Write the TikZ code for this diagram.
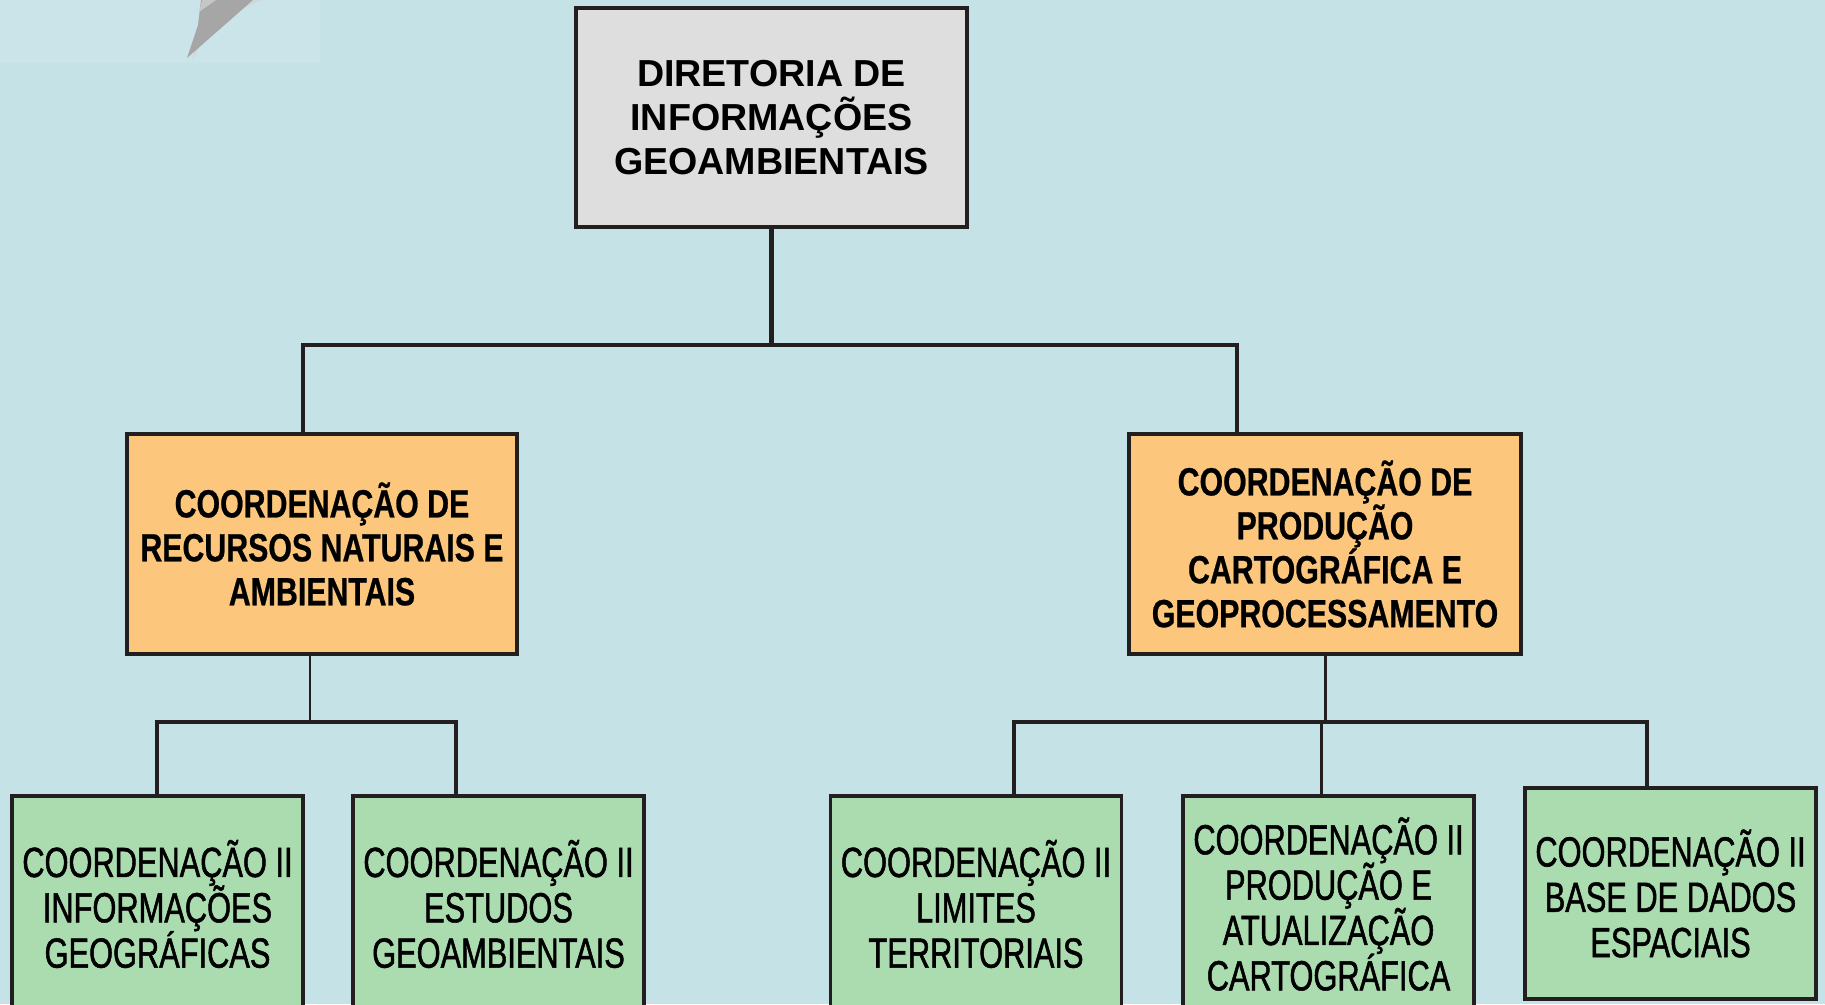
\documentclass[tikz,border=0pt]{standalone}
\usepackage{fontspec}
\usepackage{xcolor}
\usepackage{tikz}
\setmainfont{Liberation Sans}
\newfontfamily\greenfont[FakeStretch=0.73,FakeBold=1.2]{Liberation Sans}
\newfontfamily\orangefont[FakeStretch=0.77,FakeBold=0.6]{Liberation Sans}
\newcommand\tightlines{\setlength{\lineskiplimit}{-20pt}}
\definecolor{bgblue}{RGB}{197,226,231}
\definecolor{bglight}{RGB}{203,228,234}
\definecolor{boxgray}{RGB}{222,222,222}
\definecolor{boxorange}{RGB}{252,199,124}
\definecolor{boxgreen}{RGB}{171,220,176}
\definecolor{linedark}{RGB}{35,31,32}

\begin{document}
\begin{tikzpicture}[
    dirbox/.style = {draw = linedark, line width = 1pt, fill = boxgray, inner sep = 0pt,
      minimum width = 3.91cm, minimum height = 2.19cm, align = center,
      font = {\fontsize{10.7}{12.5}\selectfont\bfseries\tightlines}},
    coordbox/.style = {draw = linedark, line width = 1pt, fill = boxorange, inner sep = 0pt,
      minimum width = 3.9cm, minimum height = 2.2cm, align = center,
      font = {\orangefont\fontsize{11.2}{12.5}\selectfont\bfseries\tightlines}},
    subbox/.style = {draw = linedark, line width = 1pt, fill = boxgreen, inner sep = 0pt,
      minimum width = 2.91cm, minimum height = 2.16cm, align = center,
      font = {\greenfont\fontsize{12}{12.9}\selectfont\tightlines}},
    mainline/.style = {draw = linedark, line width = 1.4pt},
    subline/.style = {draw = linedark, line width = 1.1pt},
    dropline/.style = {draw = linedark, line width = 0.85pt}
  ]
    \useasboundingbox (0, 0) rectangle (18.25, 10.04);
    \fill[bgblue] (0, 0) rectangle (18.25, 10.04);
    \fill[bglight] (0, 9.41) rectangle (3.2, 10.04);
    {
      \fill[gray!35, opacity = 0.6] (1.92, 9.42) -- (2.10, 9.80) -- (2.62, 10.04) -- (2.06, 10.04) -- cycle;
      \fill[gray!70] (1.87, 9.46) -- (1.98, 9.79) -- (2.01, 10.04) -- (2.53, 10.04) -- cycle;
      \fill[gray!45] (1.99, 9.92) -- (2.02, 10.04) -- (2.16, 10.04) -- cycle;
    }

    \node[dirbox] (dir) at (7.715, 8.865) {DIRETORIA DE\\INFORMAÇÕES\\GEOAMBIENTAIS};

    \node[coordbox] (rn) at (3.22, 4.60) {COORDENAÇÃO DE\\RECURSOS NATURAIS E\\AMBIENTAIS};
    \node[coordbox, minimum width = 3.92cm] (gp) at (13.25, 4.60) {COORDENAÇÃO DE\\PRODUÇÃO\\CARTOGRÁFICA E\\GEOPROCESSAMENTO};

    \node[subbox] (ig) at (1.575, 1.00) {COORDENAÇÃO II\\INFORMAÇÕES\\GEOGRÁFICAS};
    \node[subbox] (eg) at (4.985, 1.00) {COORDENAÇÃO II\\ESTUDOS\\GEOAMBIENTAIS};
    \node[subbox] (lt) at (9.76, 1.00) {COORDENAÇÃO II\\LIMITES\\TERRITORIAIS};
    \node[subbox] (pa) at (13.285, 1.00) {COORDENAÇÃO II\\PRODUÇÃO E\\ATUALIZAÇÃO\\CARTOGRÁFICA};
    \node[subbox, minimum height = 2.11cm] (bd) at (16.705, 1.105) {COORDENAÇÃO II\\BASE DE DADOS\\ESPACIAIS};

    \coordinate (busL) at (3.03, 6.59);
    \coordinate (busR) at (12.37, 6.59);
    \draw[mainline] (dir.south) -- (dir.south |- busL);
    \draw[mainline] (busL |- rn.north) -- (busL) -- (busR) -- (busR |- gp.north);

    \coordinate (subL1) at (1.57, 2.82);
    \coordinate (subL2) at (4.56, 2.82);
    \draw[dropline] ([xshift = -1.2mm]rn.south) -- ([xshift = -1.2mm]rn.south |- subL1);
    \draw[subline] (subL1 |- ig.north) -- (subL1) -- (subL2) -- (subL2 |- eg.north);

    \coordinate (subR1) at (10.14, 2.82);
    \coordinate (subR2) at (16.47, 2.82);
    \draw[dropline] (gp.south) -- (gp.south |- subR1);
    \draw[subline] (subR1 |- lt.north) -- (subR1) -- (subR2) -- (subR2 |- bd.north);
    \draw[dropline] ([xshift = -0.7mm]pa.north) -- ([xshift = -0.7mm]pa.north |- subR1);
  \end{tikzpicture}
\end{document}
